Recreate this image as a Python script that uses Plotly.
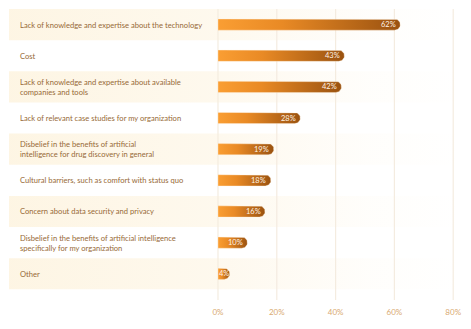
import numpy as np
import plotly.graph_objects as go

# Survey: barriers to adopting AI for drug discovery (share of respondents, %)
categories = [
    "Lack of knowledge and expertise about the technology",
    "Cost",
    "Lack of knowledge and expertise about available<br>companies and tools",
    "Lack of relevant case studies for my organization",
    "Disbelief in the benefits of artificial<br>intelligence for drug discovery in general",
    "Cultural barriers, such as comfort with status quo",
    "Concern about data security and privacy",
    "Disbelief in the benefits of artificial intelligence<br>specifically for my organization",
    "Other",
]
values = [62, 43, 42, 28, 19, 18, 16, 10, 4]
tick_values = [0, 20, 40, 60, 80]
tick_labels = ["0%", "20%", "40%", "60%", "80%"]

W, H = 471, 329
ML, MR, MT, MB = 9, 9, 9, 29
PX_PER_PCT = 2.94          # pixels per percentage point
ZERO_PX = 218              # pixel column of the 0% axis
ROW_PX = 31.15             # pixel height of one row

x_min = -(ZERO_PX - ML) / PX_PER_PCT
x_max = (W - MR - ZERO_PX) / PX_PER_PCT
y_top = -0.5
y_bot = y_top + (H - MB - MT) / ROW_PX

LABEL_COLOR = "#976a37"
TICK_COLOR = "#d9aa72"
GRID_COLOR = "#f4ece0"

fig = go.Figure()

# alternating cream row bands that fade out to the right
for i in range(len(categories)):
    if i % 2 == 0:
        fig.add_trace(go.Scatter(
            x=[x_min, x_max, x_max, x_min, x_min],
            y=[i - 0.5, i - 0.5, i + 0.5, i + 0.5, i - 0.5],
            mode="lines", line=dict(width=0), fill="toself",
            fillgradient=dict(
                type="horizontal",
                colorscale=[[0, "rgba(248,210,130,0.22)"],
                            [0.45, "rgba(248,210,130,0.14)"],
                            [0.8, "rgba(248,210,130,0.03)"],
                            [1, "rgba(248,210,130,0.0)"]],
            ),
            hoverinfo="skip", showlegend=False,
        ))

# vertical grid lines at the tick positions
for tv in tick_values:
    fig.add_trace(go.Scatter(
        x=[tv, tv], y=[y_top, y_bot], mode="lines",
        line=dict(color=GRID_COLOR, width=1.2),
        hoverinfo="skip", showlegend=False,
    ))

# bars with a rounded right end and an orange-to-brown gradient
half_h = 5.6 / ROW_PX
rx = 5.6 / PX_PER_PCT
theta = np.linspace(-np.pi / 2, np.pi / 2, 24)
for i, v in enumerate(values):
    r = min(rx, v / 2)
    cx = v - r
    xs = [0, cx] + list(cx + r * np.cos(theta)) + [cx, 0, 0]
    ys = [i - half_h, i - half_h] + list(i + half_h * np.sin(theta)) + [i + half_h, i + half_h, i - half_h]
    fig.add_trace(go.Scatter(
        x=xs, y=ys, mode="lines",
        line=dict(color="rgba(255,240,220,0.6)", width=0.6),
        fill="toself",
        fillgradient=dict(
            type="horizontal",
            colorscale=[[0, "#fa9e33"], [0.35, "#e98a25"], [1, "#9a5210"]],
        ),
        hoverinfo="skip", showlegend=False,
    ))

annotations = []
for i, (cat, v) in enumerate(zip(categories, values)):
    annotations.append(dict(
        x=0.02, xref="paper", y=i, yref="y",
        text=cat, showarrow=False, xanchor="left", yanchor="middle", align="left",
        font=dict(family="Lato", size=7.6, color=LABEL_COLOR),
    ))
    annotations.append(dict(
        x=v, xref="x", y=i, yref="y",
        text=f"{v}%", showarrow=False, xanchor="right", yanchor="middle",
        xshift=-2.5 if v > 5 else 1.5,
        font=dict(family="Lato", size=7.5, color="#fff3e4"),
    ))

fig.update_layout(
    width=W, height=H,
    margin=dict(l=ML, r=MR, t=MT, b=MB),
    paper_bgcolor="white", plot_bgcolor="white",
    annotations=annotations,
    xaxis=dict(
        range=[x_min, x_max], tickvals=tick_values, ticktext=tick_labels,
        showgrid=False, zeroline=False, showline=False, ticks="",
        ticklabelstandoff=6,
        tickfont=dict(family="Lato", size=8, color=TICK_COLOR),
        fixedrange=True,
    ),
    yaxis=dict(
        range=[y_bot, y_top], showticklabels=False, showgrid=False,
        zeroline=False, showline=False, fixedrange=True,
    ),
    showlegend=False,
)

fig.write_html("out.html")
